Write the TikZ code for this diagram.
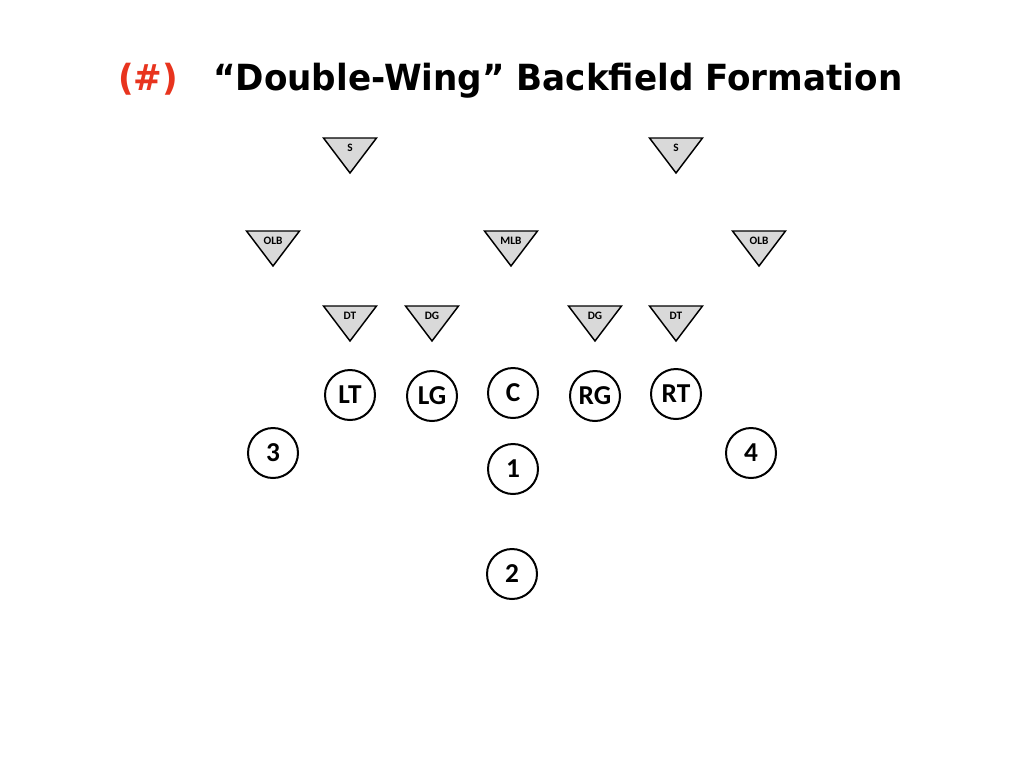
\documentclass[tikz,border=0pt]{standalone}
\usepackage{fontspec}
\setmainfont{Carlito}
\newfontfamily\titlefont[FakeStretch=0.95]{DejaVu Sans}
\usetikzlibrary{positioning}
\definecolor{hashred}{RGB}{232,52,30}
\definecolor{defgray}{RGB}{217,217,217}
\tikzset{
  player/.style={circle, draw, line width=1.5pt, minimum size=37.5pt, inner sep=0pt, font=\fontsize{20.5}{20.5}\selectfont\bfseries},
  deflabel/.style={inner sep=0pt, font=\fontsize{8.5}{8.5}\selectfont\bfseries},
}
% defender: x, y (top middle), name, label
\newcommand{\defender}[4]{%
  \draw[line width=1.1pt, fill=defgray, line join=miter] (#1-26.5,#2) -- (#1+26.5,#2) -- (#1,#2+35) -- cycle;
  \node[deflabel] (#3) at (#1,#2+9.5) {#4};
}

\begin{document}
\begin{tikzpicture}[x=0.75pt, y=-0.75pt]
  \useasboundingbox (0,0) rectangle (1024,768);
  % title
  \node[anchor=base west, inner sep=0pt, text=hashred, font=\titlefont\fontsize{27}{27}\selectfont\bfseries] (hash) at (118,90) {(\#)};
  \node[anchor=base west, inner sep=0pt, font=\titlefont\fontsize{27}{27}\selectfont\bfseries] (title) at (213,90) {“Double-Wing” Backfield Formation};
  % defense
  \defender{350}{138}{sl}{S}
  \defender{676}{138}{sr}{S}
  \defender{273}{231}{olbl}{OLB}
  \defender{511}{231}{mlb}{MLB}
  \defender{759}{231}{olbr}{OLB}
  \defender{350}{306}{dtl}{DT}
  \defender{432}{306}{dgl}{DG}
  \defender{595}{306}{dgr}{DG}
  \defender{676}{306}{dtr}{DT}
  % offense
  \node[player] (lt) at (350,395) {LT};
  \node[player] (lg) at (432,396) {LG};
  \node[player] (c)  at (513,393) {C};
  \node[player] (rg) at (595,396) {RG};
  \node[player] (rt) at (676,394) {RT};
  \node[player] (b3) at (273,453) {3};
  \node[player] (b4) at (751,453) {4};
  \node[player] (b1) at (513,469) {1};
  \node[player] (b2) at (512,574) {2};
\end{tikzpicture}
\end{document}
